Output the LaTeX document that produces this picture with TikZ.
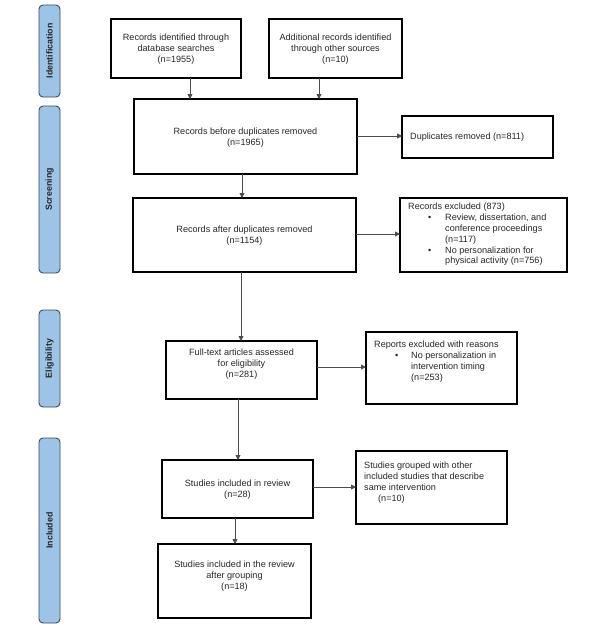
\documentclass[tikz,border=0pt]{standalone}
\usepackage{fontspec}
\setmainfont{Liberation Sans}
\usetikzlibrary{arrows.meta}
\definecolor{barfill}{HTML}{9DC3E6}
\definecolor{barline}{HTML}{3F4A55}
\newcommand{\blt}{\hspace*{20pt}\makebox[17pt][l]{\textbullet}}
\newcommand{\bind}{\hspace*{37pt}}
\begin{document}
\begin{tikzpicture}[x=1pt,y=-1pt,
  box/.style={draw=black,line width=1.2pt},
  bar/.style={draw=barline,fill=barfill,line width=0.9pt,rounded corners=4pt},
  bartext/.style={rotate=90,font=\fontsize{8.8}{10}\selectfont\bfseries,text=black!85},
  txt/.style={font=\fontsize{9.1}{11}\selectfont,align=center,text=black!85,inner sep=0pt},
  ltxt/.style={font=\fontsize{9.1}{10.8}\selectfont,align=left,text=black!85,inner sep=0pt},
  arr/.style={draw=black!70,line width=0.8pt,-{Triangle[length=5pt,width=5pt]}}]
\useasboundingbox (0,0) rectangle (602,633);
% side bars
\draw[bar] (39,5) rectangle (60,97);
\node[bartext] (lid) at (49.5,51) {Identification};
\draw[bar] (39,106) rectangle (60,273);
\node[bartext] (lsc) at (49.5,189.5) {Screening};
\draw[bar] (39,310) rectangle (60,407);
\node[bartext] (lel) at (49.5,358.5) {Eligibility};
\draw[bar] (39,438) rectangle (60,623);
\node[bartext] (lin) at (49.5,530.5) {Included};
% boxes
\draw[box] (111,19) rectangle (241,78);
\node[txt] (b1) at (176,49) {Records identified through\\database searches\\(n=1955)};
\draw[box] (269,19) rectangle (402,78);
\node[txt] (b2) at (335.5,49) {Additional records identified\\through other sources\\(n=10)};
\draw[box] (134,99) rectangle (357,174);
\node[txt] (b3) at (245.5,137.5) {Records before duplicates removed\\(n=1965)};
\draw[box] (402,116) rectangle (553,158);
\node[ltxt,anchor=west] (d1) at (410,137) {Duplicates removed (n=811)};
\draw[box] (133,198) rectangle (356,272);
\node[txt] (b4) at (244.5,236) {Records after duplicates removed\\(n=1154)};
\draw[box] (400,198) rectangle (567,272);
\node[ltxt,anchor=north west] (e1) at (408,203) {Records excluded (873)\\
\blt Review, dissertation, and\\
\bind conference proceedings\\
\bind (n=117)\\
\blt No personalization for\\
\bind physical activity (n=756)};
\draw[box] (166,341) rectangle (317,399);
\node[txt] (b5) at (241.5,364.5) {Full-text articles assessed\\for eligibility\\(n=281)};
\draw[box] (366,332) rectangle (517,404);
\node[ltxt,anchor=north west] (e2) at (374,341) {Reports excluded with reasons\\
\hspace*{21pt}\makebox[16pt][l]{\textbullet}No personalization in\\
\bind intervention timing\\
\bind (n=253)};
\draw[box] (162,460) rectangle (313,518);
\node[txt] (b6) at (237.5,489.5) {Studies included in review\\(n=28)};
\draw[box] (356,451) rectangle (507,524);
\node[ltxt,anchor=north west] (g1) at (364,462) {Studies grouped with other\\included studies that describe\\same intervention\\\hspace*{14pt}(n=10)};
\draw[box] (158,544) rectangle (311,618);
\node[txt] (b7) at (234.5,576) {Studies included in the review\\after grouping\\(n=18)};
% connector coordinates
\coordinate (a1s) at (190,78); \coordinate (a1e) at (190,99);
\coordinate (a2s) at (319,78); \coordinate (a2e) at (319,99);
\coordinate (a3s) at (357,136); \coordinate (a3e) at (402,136);
\coordinate (a4s) at (242,174); \coordinate (a4e) at (242,198);
\coordinate (a5s) at (356,234); \coordinate (a5e) at (400,234);
\coordinate (a6s) at (241,272); \coordinate (a6e) at (241,341);
\coordinate (a7s) at (317,367); \coordinate (a7e) at (366,367);
\coordinate (a8s) at (238,399); \coordinate (a8e) at (238,460);
\coordinate (a9s) at (313,487); \coordinate (a9e) at (356,487);
\coordinate (a10s) at (235,518); \coordinate (a10e) at (235,544);
\foreach \i in {1,...,10} {\draw[arr] (a\i s) -- (a\i e);}
\end{tikzpicture}
\end{document}
